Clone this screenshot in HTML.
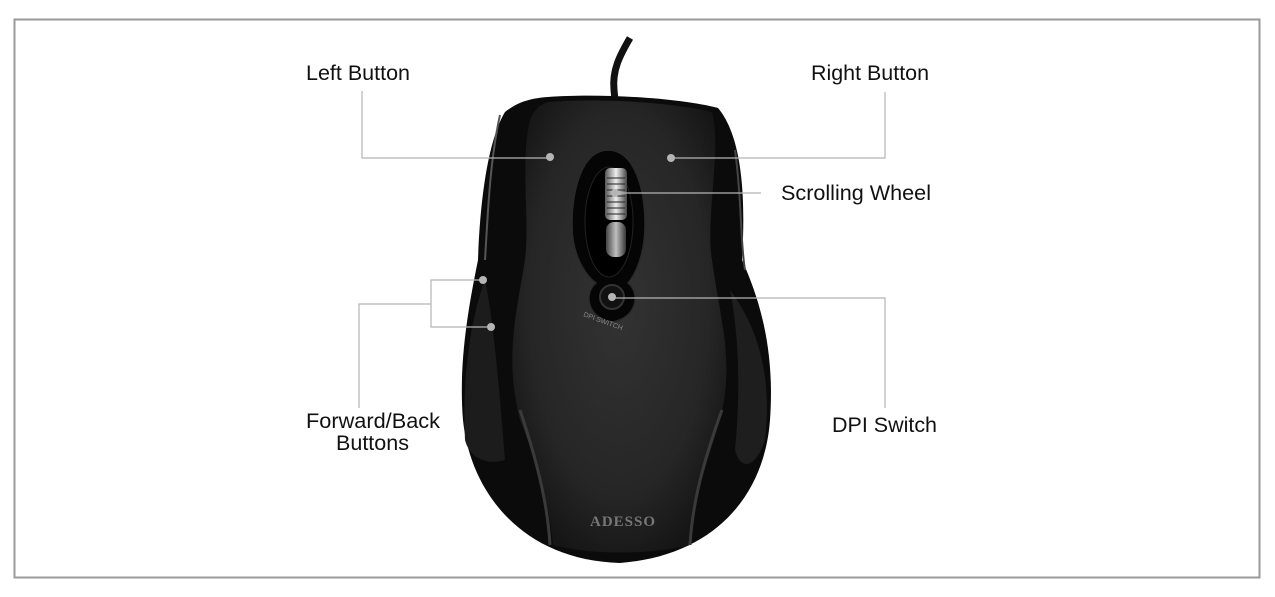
<!DOCTYPE html>
<html><head><meta charset="utf-8"><style>
html,body{margin:0;padding:0;background:#fff;}
svg{display:block;}
text{font-family:"Liberation Sans",Arial,sans-serif;fill:#111;}
</style></head><body>
<svg width="1275" height="597" viewBox="0 0 1275 597" xmlns="http://www.w3.org/2000/svg">
<defs>
<radialGradient id="body" cx="0.5" cy="0.45" r="0.6">
<stop offset="0" stop-color="#333"/><stop offset="0.7" stop-color="#262626"/><stop offset="1" stop-color="#151515"/>
</radialGradient>
<linearGradient id="wheel" x1="0" y1="0" x2="1" y2="0">
<stop offset="0" stop-color="#555"/><stop offset="0.5" stop-color="#eee"/><stop offset="1" stop-color="#444"/>
</linearGradient>
</defs>
<rect x="14.5" y="19.5" width="1245" height="558" fill="#fff" stroke="#9a9a9a" stroke-width="2"/>
<path d="M630 38 C620 55 612 70 614 90 L616 110" stroke="#111" stroke-width="7" fill="none"/>
<path d="M548 97 C600 93 680 98 718 108 C745 140 745 210 742 260 C760 300 775 350 770 420 C765 490 720 555 620 563 C520 560 470 490 463 420 C458 360 470 300 478 260 C480 200 488 140 505 112 C520 100 535 98 548 97 Z" fill="#0b0b0b"/>
<path d="M485 280 C470 320 462 380 465 440 C470 460 490 465 505 460 C500 400 495 330 485 280 Z" fill="#1c1c1c"/>
<path d="M730 290 C760 330 772 380 765 440 C755 470 740 470 735 450 C740 400 740 340 730 290 Z" fill="#1e1e1e"/>
<path d="M548 102 C600 98 670 102 712 112 C722 150 705 220 712 260 C720 320 735 360 720 420 C705 470 690 510 690 545 C650 555 590 555 553 545 C550 510 540 470 520 420 C505 360 515 320 525 260 C530 220 520 160 530 120 C535 108 542 104 548 102 Z" fill="url(#body)"/>
<path d="M500 115 C490 160 488 210 485 260" stroke="#555" stroke-width="2" fill="none"/>
<path d="M735 150 C742 200 740 240 745 270" stroke="#444" stroke-width="2" fill="none"/>
<path d="M520 410 C540 470 548 510 550 545" stroke="#3a3a3a" stroke-width="3" fill="none"/>
<path d="M722 410 C700 470 692 510 690 545" stroke="#3a3a3a" stroke-width="3" fill="none"/>
<path d="M608 150 C635 150 645 190 645 225 C645 255 635 275 628 283 C640 292 638 318 612 322 C586 318 584 292 596 283 C585 275 572 255 572 225 C572 190 582 150 608 150 Z" fill="#050505" stroke="#2a2a2a" stroke-width="1.5"/>
<ellipse cx="609" cy="222" rx="24" ry="55" fill="#000" stroke="#222"/>
<rect x="605" y="168" width="22" height="52" rx="5" fill="url(#wheel)"/>
<g stroke="#222" stroke-width="1">
<line x1="607" y1="178" x2="625" y2="178"/><line x1="607" y1="184" x2="625" y2="184"/><line x1="607" y1="190" x2="625" y2="190"/><line x1="607" y1="196" x2="625" y2="196"/><line x1="607" y1="202" x2="625" y2="202"/><line x1="607" y1="208" x2="625" y2="208"/><line x1="607" y1="214" x2="625" y2="214"/></g>
<rect x="606" y="222" width="20" height="35" rx="8" fill="url(#wheel)" opacity="0.8"/>
<circle cx="612" cy="297" r="12" fill="#111" stroke="#333" stroke-width="2"/>
<text x="583" y="324" font-size="7" style="fill:#888" transform="rotate(20 605 320)">DPI SWITCH</text>
<text x="590" y="526" font-size="15" font-weight="bold" style="fill:#777;font-family:'Liberation Serif',serif;letter-spacing:1px">ADESSO</text>
<g stroke="#b5b5b5" stroke-width="1.2" fill="none">
<polyline points="362,91 362,158 550,158"/>
<polyline points="885,92 885,158 671,158"/>
<line x1="615" y1="193" x2="761" y2="193"/>
<polyline points="612,298 885,298 885,408"/>
<polyline points="483,280 431,280 431,327 491,327"/>
<polyline points="431,304 359,304 359,408"/>
</g>
<g fill="#b5b5b5">
<circle cx="550" cy="157" r="4"/><circle cx="671" cy="158" r="4"/><circle cx="615" cy="193" r="4"/><circle cx="612" cy="297" r="4"/><circle cx="483" cy="280" r="4"/><circle cx="491" cy="327" r="4"/>
</g>
<g font-size="21">
<text x="306" y="80" textLength="104" lengthAdjust="spacingAndGlyphs">Left Button</text>
<text x="811" y="80" textLength="118" lengthAdjust="spacingAndGlyphs">Right Button</text>
<text x="781" y="200" textLength="150" lengthAdjust="spacingAndGlyphs">Scrolling Wheel</text>
<text x="832" y="432" textLength="105" lengthAdjust="spacingAndGlyphs">DPI Switch</text>
<text x="306" y="428" textLength="134" lengthAdjust="spacingAndGlyphs">Forward/Back</text>
<text x="336" y="450" textLength="73" lengthAdjust="spacingAndGlyphs">Buttons</text>
</g>
</svg>
</body></html>
